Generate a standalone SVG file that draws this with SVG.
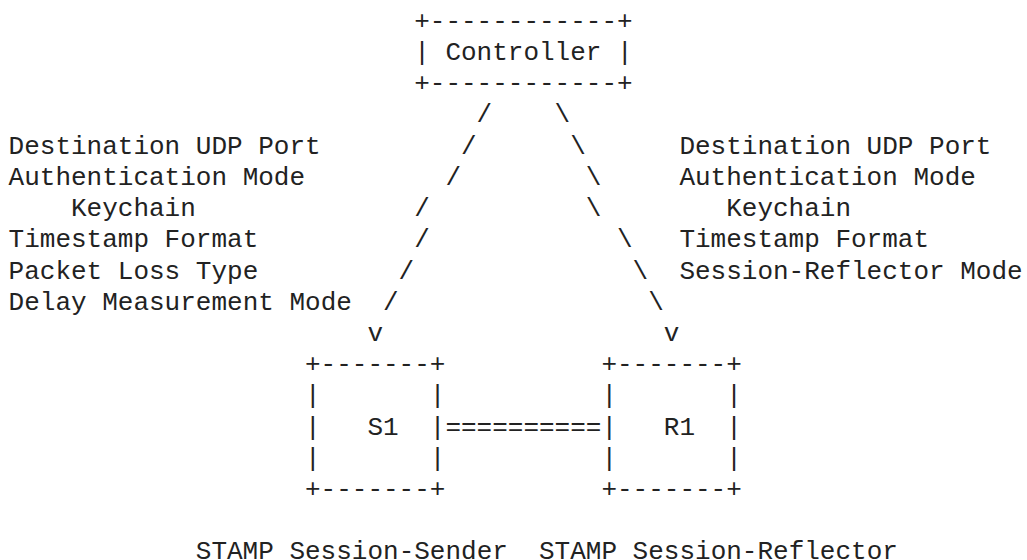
<svg xmlns="http://www.w3.org/2000/svg" width="1027" height="560" viewBox="0 0 1027 560" xml:space="preserve">
  <style>
    text { font-family: "Liberation Mono", "DejaVu Sans Mono", monospace; font-size: 26px; fill: #222; white-space: pre; }
  </style>
  <rect width="1027" height="560" fill="#fff"/>

  <!-- character grid: column c at x = 8.6 + 15.6*c, row r baseline at y = 28.8 + 31.21*r -->

  <g id="controller">
    <text x="414.2" y="28.8">+------------+</text>
    <text x="414.2" y="60.0">| Controller |</text>
    <text x="414.2" y="91.2">+------------+</text>
  </g>

  <g id="s1">
    <text x="305.0" y="372.1">+-------+</text>
    <text x="305.0" y="403.3">|       |</text>
    <text x="305.0" y="434.5">|   S1  |</text>
    <text x="305.0" y="465.7">|       |</text>
    <text x="305.0" y="496.9">+-------+</text>
  </g>

  <g id="r1">
    <text x="601.4" y="372.1">+-------+</text>
    <text x="601.4" y="403.3">|       |</text>
    <text x="601.4" y="434.5">|   R1  |</text>
    <text x="601.4" y="465.7">|       |</text>
    <text x="601.4" y="496.9">+-------+</text>
  </g>

  <g id="connectors">
    <!-- controller to session-sender -->
    <text x="476.6" y="122.4">/</text>
    <text x="461.0" y="153.6">/</text>
    <text x="445.4" y="184.9">/</text>
    <text x="414.2" y="216.1">/</text>
    <text x="414.2" y="247.3">/</text>
    <text x="398.6" y="278.5">/</text>
    <text x="383.0" y="309.7">/</text>
    <text x="367.4" y="340.9">v</text>
    <!-- controller to session-reflector -->
    <text x="554.6" y="122.4">\</text>
    <text x="570.2" y="153.6">\</text>
    <text x="585.8" y="184.9">\</text>
    <text x="585.8" y="216.1">\</text>
    <text x="617.0" y="247.3">\</text>
    <text x="632.6" y="278.5">\</text>
    <text x="648.2" y="309.7">\</text>
    <text x="663.8" y="340.9">v</text>
    <!-- test session link -->
    <text x="445.4" y="434.5">==========</text>
  </g>

  <g id="sender-params">
    <text x="8.6" y="153.6">Destination UDP Port</text>
    <text x="8.6" y="184.9">Authentication Mode</text>
    <text x="71.0" y="216.1">Keychain</text>
    <text x="8.6" y="247.3">Timestamp Format</text>
    <text x="8.6" y="278.5">Packet Loss Type</text>
    <text x="8.6" y="309.7">Delay Measurement Mode</text>
  </g>

  <g id="reflector-params">
    <text x="679.4" y="153.6">Destination UDP Port</text>
    <text x="679.4" y="184.9">Authentication Mode</text>
    <text x="726.2" y="216.1">Keychain</text>
    <text x="679.4" y="247.3">Timestamp Format</text>
    <text x="679.4" y="278.5">Session-Reflector Mode</text>
  </g>

  <g id="captions">
    <text x="195.8" y="559.4">STAMP Session-Sender</text>
    <text x="539.0" y="559.4">STAMP Session-Reflector</text>
  </g>
</svg>
